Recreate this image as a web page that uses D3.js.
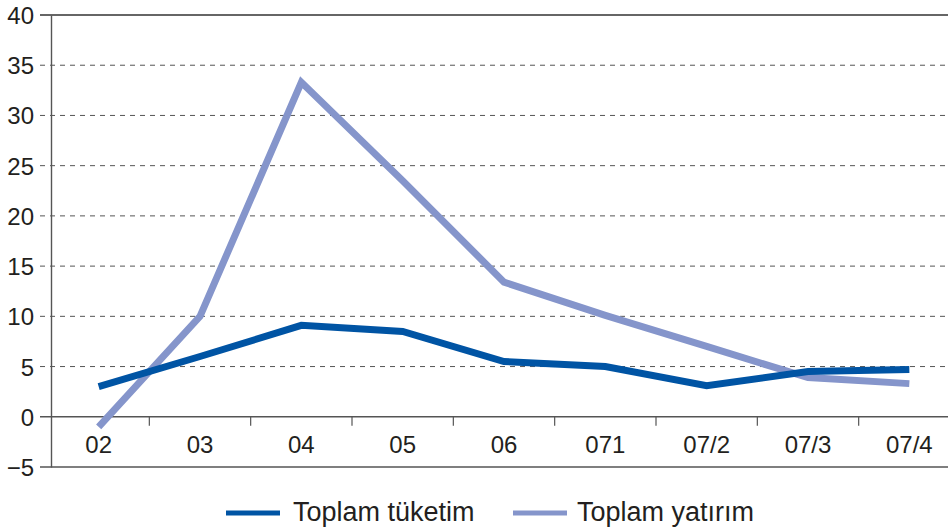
<!DOCTYPE html>
<html><head><meta charset="utf-8">
<script src="https://cdn.jsdelivr.net/npm/d3@7"></script>
<style>body{margin:0;background:#fff}svg{display:block}text{font-family:"Liberation Sans",Arial,sans-serif;fill:#231f20}</style>
</head><body><svg id="c" width="948" height="529"></svg>
<script>
const categories = ["02","03","04","05","06","071","07/2","07/3","07/4"];
const tuketim = [3.0, 6.0, 9.1, 8.5, 5.5, 5.0, 3.1, 4.5, 4.7];
const yatirim = [-1.0, 10.0, 33.3, 23.5, 13.4, 10.1, 7.0, 3.9, 3.3];
const yTicks = [-5,0,5,10,15,20,25,30,35,40];
const seriesNames = ["Toplam tüketim","Toplam yatırım"];
const colors = ["#0054a4","#8595cb"];

const svg = d3.select("#c");
const L = 51, R = 948, T = 15, B = 467;
const x = d3.scaleBand().domain(categories).range([48, 960]);
const y = d3.scaleLinear().domain([-5, 40]).range([B, T]);

// gridlines
const g = svg.append("g");
yTicks.forEach(v => {
  const solid = (v === 40 || v === -5 || v === 0);
  g.append("line").attr("x1", 40).attr("x2", R).attr("y1", y(v)).attr("y2", y(v))
    .attr("stroke", v === 40 ? "#333" : "#555")
    .attr("stroke-width", solid ? 1.4 : 1)
    .attr("stroke-dasharray", solid ? null : "5,5");
});
// y axis
const yAxis = d3.axisLeft(y).tickValues(yTicks).tickSize(0).tickPadding(17);
const ya = svg.append("g").attr("transform", `translate(${L},0)`).call(yAxis);
ya.select(".domain").attr("stroke", "#555").attr("stroke-width", 1.4);
ya.selectAll(".tick text").style("font-size", "24px").attr("fill", "#231f20")
  .attr("dy", null).attr("y", 8.5);

// x axis at 0
const xa = svg.append("g").attr("transform", `translate(0,${y(0)})`);
categories.forEach((c, i) => {
  if (i > 0) xa.append("line").attr("x1", x(c)).attr("x2", x(c)).attr("y1", 0).attr("y2", 9)
    .attr("stroke", "#555").attr("stroke-width", 1.2);
  xa.append("text").attr("x", x(c) + x.bandwidth() / 2).attr("y", 36)
    .attr("text-anchor", "middle").style("font-size", "24px").text(c);
});

const line = d3.line().x((d, i) => x(categories[i]) + x.bandwidth() / 2).y(d => y(d));
[yatirim, tuketim].forEach((s, k) => {
  svg.append("path").datum(s).attr("d", line).attr("fill", "none")
    .attr("stroke", k === 0 ? colors[1] : colors[0]).attr("stroke-width", 7)
    .attr("stroke-linejoin", "miter").attr("stroke-linecap", "butt");
});

// legend
const leg = [{x: 226, tx: 293, name: seriesNames[0], c: colors[0]}, {x: 513, tx: 577, name: seriesNames[1], c: colors[1]}];
leg.forEach(l => {
  svg.append("line").attr("x1", l.x).attr("x2", l.x + 54).attr("y1", 513).attr("y2", 513)
    .attr("stroke", l.c).attr("stroke-width", 5);
  svg.append("text").attr("x", l.tx).attr("y", 521).style("font-size", "27px").text(l.name);
});
</script></body></html>
